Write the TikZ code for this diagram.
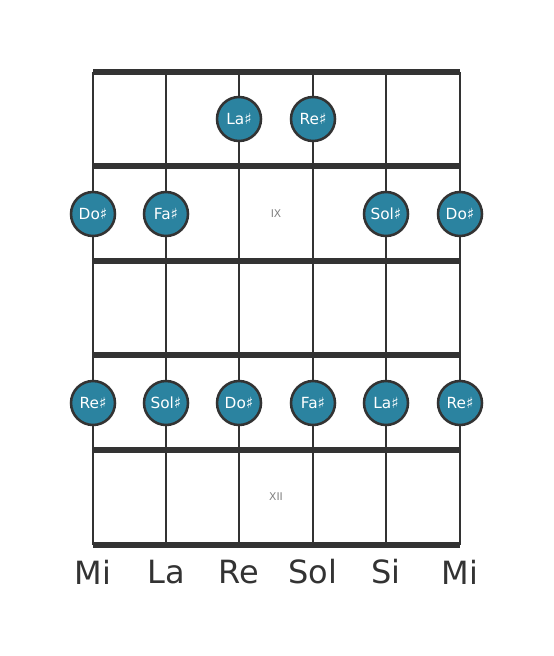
\documentclass[tikz,border=0pt]{standalone}
\usepackage{fontspec}
\setmainfont{DejaVu Sans}

\definecolor{wire}{HTML}{333333}
\definecolor{notefill}{HTML}{2B83A0}

\tikzset{
	fret/.style={draw=wire, line width=3.9pt},
	string/.style={draw=wire, line width=2.2pt},
	note/.style={circle, draw=wire, line width=1.9pt, fill=notefill, text=white,
		minimum size=33pt, inner sep=0pt, font=\fontsize{11.5}{11.5}\selectfont},
	marker/.style={text=gray, font=\fontsize{8}{8}\selectfont},
	tuning/.style={text=wire, font=\fontsize{24}{24}\selectfont}
}

\begin{document}
\begin{tikzpicture}[x=0.75pt, y=-0.75pt]
	\useasboundingbox (0,0) rectangle (553,656);

	\coordinate(E1t) at (93,72);   \coordinate(E1b) at (93,545);
	\coordinate(At)  at (166,72);  \coordinate(Ab)  at (166,545);
	\coordinate(Dt)  at (239,72);  \coordinate(Db)  at (239,545);
	\coordinate(Gt)  at (313,72);  \coordinate(Gb)  at (313,545);
	\coordinate(Bt)  at (386,72);  \coordinate(Bb)  at (386,545);
	\coordinate(E2t) at (460,72);  \coordinate(E2b) at (460,545);

	% strings
	\draw[string](E1t) -- (E1b);
	\draw[string](At) -- (Ab);
	\draw[string](Dt) -- (Db);
	\draw[string](Gt) -- (Gb);
	\draw[string](Bt) -- (Bb);
	\draw[string](E2t) -- (E2b);

	% frets
	\draw[fret](93,72) -- (460,72);
	\draw[fret](93,166) -- (460,166);
	\draw[fret](93,261) -- (460,261);
	\draw[fret](93,355) -- (460,355);
	\draw[fret](93,450) -- (460,450);
	\draw[fret](93,545) -- (460,545);

	\node(IX) [marker] at (276,214) {IX};
	\node(XII) [marker] at (276,497) {XII};

	% notes
	\node(LaS8) [note] at (239,119) {La♯};
	\node(ReS8) [note] at (313,119) {Re♯};

	\node(DoS9a) [note] at (93,214) {Do♯};
	\node(FaS9) [note] at (166,214) {Fa♯};
	\node(SolS9) [note] at (386,214) {Sol♯};
	\node(DoS9b) [note] at (460,214) {Do♯};

	\node(ReS11a) [note] at (93,403) {Re♯};
	\node(SolS11) [note] at (166,403) {Sol♯};
	\node(DoS11) [note] at (239,403) {Do♯};
	\node(FaS11) [note] at (313,403) {Fa♯};
	\node(LaS11) [note] at (386,403) {La♯};
	\node(ReS11b) [note] at (460,403) {Re♯};

	% tuning
	\node(MiLow) [tuning] at (93,572) {Mi};
	\node(La) [tuning] at (166,572) {La};
	\node(Re) [tuning] at (239,572) {Re};
	\node(Sol) [tuning] at (313,572) {Sol};
	\node(Si) [tuning] at (386,572) {Si};
	\node(MiHigh) [tuning] at (460,572) {Mi};

	\end{tikzpicture}
\end{document}
